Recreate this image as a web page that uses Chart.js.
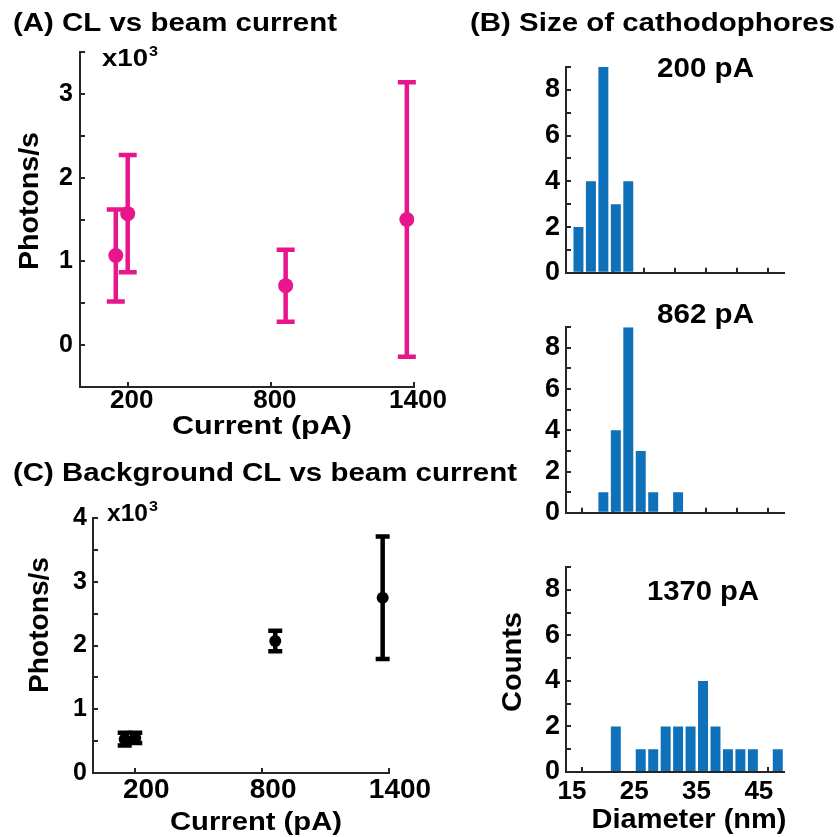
<!DOCTYPE html>
<html>
<head>
<meta charset="utf-8">
<script src="https://cdn.jsdelivr.net/npm/chart.js@4.4.1/dist/chart.umd.min.js"></script>
<style>
  html, body { margin: 0; padding: 0; background: #fff; }
  #page { position: relative; width: 840px; height: 837px; overflow: hidden; }
  canvas { position: absolute; }
</style>
</head>
<body>
<div id="page">
  <canvas id="chartA" width="470" height="445" style="left:0;top:0"></canvas>
  <canvas id="chartC" width="530" height="392" style="left:0;top:445px"></canvas>
  <canvas id="hist200" width="380" height="300" style="left:460px;top:0"></canvas>
  <canvas id="hist862" width="380" height="240" style="left:460px;top:300px"></canvas>
  <canvas id="hist1370" width="380" height="297" style="left:460px;top:540px"></canvas>
</div>
<script>
// ------------------------------------------------------------
// data
// ------------------------------------------------------------
const currents = [150, 200, 862, 1370];          // beam current (pA)
const currentTicks = [200, 800, 1400];

// (A) CL of cathodophores, x10^3 photons/s
const clMean = [1.07, 1.57, 0.71, 1.50];
const clErr = [0.55, 0.70, 0.43, 1.64];

// (C) background CL, x10^3 photons/s
const bgMean = [0.53, 0.55, 2.07, 2.75];
const bgErr = [0.10, 0.08, 0.16, 0.96];

// (B) size histograms, 2 nm bins (bin centres)
const diameterBins = [17, 19, 21, 23, 25, 27, 29, 31, 33, 35, 37, 39, 41, 43, 45, 47, 49];
const counts200 = [2, 4, 9, 3, 4, 0, 0, 0, 0, 0, 0, 0, 0, 0, 0, 0, 0];
const counts862 = [0, 0, 1, 4, 9, 3, 1, 0, 1, 0, 0, 0, 0, 0, 0, 0, 0];
const counts1370 = [0, 0, 0, 2, 0, 1, 1, 2, 2, 2, 4, 2, 1, 1, 1, 0, 1];

// ------------------------------------------------------------
// styles
// ------------------------------------------------------------
const FONT = "'Liberation Sans', Arial, Helvetica, sans-serif";
const AXIS = '#262626';
const MAGENTA = '#e8168c';
const BAR = '#0e71b9';

// vertical error bars with caps, drawn under the markers
const errorBars = {
  id: 'errorBars',
  beforeDatasetsDraw(chart) {
    const { ctx, scales: { x, y } } = chart;
    chart.data.datasets.forEach(ds => {
      if (!ds.errors) return;
      ctx.save();
      ctx.strokeStyle = ds.errorColor;
      ctx.lineWidth = ds.errorWidth;
      ctx.lineCap = 'butt';
      ds.data.forEach((p, i) => {
        const px = x.getPixelForValue(p.x);
        const top = y.getPixelForValue(p.y + ds.errors[i]);
        const bot = y.getPixelForValue(p.y - ds.errors[i]);
        const half = ds.capWidth / 2;
        ctx.beginPath();
        ctx.moveTo(px, top); ctx.lineTo(px, bot);
        ctx.moveTo(px - half, top); ctx.lineTo(px + half, top);
        ctx.moveTo(px - half, bot); ctx.lineTo(px + half, bot);
        ctx.stroke();
      });
      ctx.restore();
    });
  }
};

// free text (panel titles, axis titles, exponents), stretched to width w
function textPlugin(items) {
  return {
    id: 'panelText',
    afterDraw(chart) {
      const ctx = chart.ctx;
      items.forEach(t => {
        ctx.save();
        ctx.font = `bold ${t.size}px ${FONT}`;
        ctx.fillStyle = '#000';
        ctx.textAlign = t.rot ? 'center' : (t.align || 'left');
        ctx.textBaseline = t.rot ? 'middle' : 'alphabetic';
        const sx = t.w ? t.w / ctx.measureText(t.text).width : 1;
        ctx.translate(t.x, t.y);
        if (t.rot) ctx.rotate(-Math.PI / 2);
        ctx.scale(sx, 1);
        ctx.fillText(t.text, 0, 0);
        ctx.restore();
      });
    }
  };
}

function axisStyle(extra) {
  return Object.assign({
    grid: { drawOnChartArea: false, drawTicks: true, tickLength: -5, color: AXIS, lineWidth: 2 },
    border: { display: true, color: AXIS, width: 2 },
  }, extra);
}

function tickFont(size) {
  return { family: FONT, size, weight: 'bold' };
}

// ------------------------------------------------------------
// (A) / (C) photon rate vs beam current
// ------------------------------------------------------------
function currentChart(id, opt) {
  new Chart(document.getElementById(id), {
    type: 'scatter',
    data: {
      datasets: [{
        data: currents.map((c, i) => ({ x: c, y: opt.mean[i] })),
        errors: opt.err,
        errorColor: opt.color,
        errorWidth: 4.5,
        capWidth: opt.cap,
        pointRadius: opt.radius,
        pointHoverRadius: opt.radius,
        backgroundColor: opt.color,
        borderWidth: 0,
      }],
    },
    options: {
      responsive: false,
      animation: false,
      layout: { padding: { top: opt.top, right: opt.right, left: 0, bottom: 0 } },
      plugins: { legend: { display: false }, tooltip: { enabled: false } },
      scales: {
        x: axisStyle({
          type: 'linear', min: 0, max: 1400,
          afterBuildTicks: s => { s.ticks = currentTicks.map(v => ({ value: v })); },
          afterFit: s => { s.height = opt.xHeight; },
          ticks: {
            font: tickFont(opt.xFont), color: '#000', padding: opt.xPad,
            maxRotation: 0, autoSkip: false, labelOffset: opt.xOffset,
            callback: v => String(v),
          },
        }),
        y: axisStyle({
          type: 'linear', min: opt.yMin, max: opt.yMax,
          afterFit: s => { s.width = opt.yWidth; },
          ticks: {
            stepSize: 0.5, font: tickFont(25), color: '#000', padding: opt.yPad,
            autoSkip: false,
            callback: v => Number.isInteger(v) ? v : '',
          },
        }),
      },
    },
    plugins: [errorBars, textPlugin(opt.texts)],
  });
}

currentChart('chartA', {
  mean: clMean, err: clErr, color: MAGENTA, cap: 18, radius: 7.5,
  yMin: -0.5, yMax: 3.5, top: 52, right: 56, xHeight: 58, yWidth: 80,
  xFont: 26, xPad: 3, xOffset: 4, yPad: 12,
  texts: [
    { text: '(A) CL vs beam current', x: 13, y: 31, size: 26, w: 324 },
    { text: 'x10', x: 102, y: 66, size: 24, w: 46 },
    { text: '3', x: 149, y: 56, size: 14, w: 9 },
    { text: 'Photons/s', x: 31, y: 201, size: 27, w: 138, rot: true },
    { text: 'Current (pA)', x: 262, y: 434, size: 26, w: 180, align: 'center' },
  ],
});

currentChart('chartC', {
  mean: bgMean, err: bgErr, color: '#000', cap: 14, radius: 6,
  yMin: 0, yMax: 4, top: 73, right: 141, xHeight: 64, yWidth: 93,
  xFont: 28, xPad: 5, xOffset: 11, yPad: 11,
  texts: [
    { text: '(C) Background CL vs beam current', x: 13, y: 36, size: 26, w: 504 },
    { text: 'x10', x: 107, y: 76, size: 24, w: 41 },
    { text: '3', x: 149, y: 66, size: 14, w: 9 },
    { text: 'Photons/s', x: 41, y: 180, size: 27, w: 136, rot: true },
    { text: 'Current (pA)', x: 256, y: 385, size: 26, w: 172, align: 'center' },
  ],
});

// ------------------------------------------------------------
// (B) diameter histograms
// ------------------------------------------------------------
function histogram(id, counts, opt) {
  new Chart(document.getElementById(id), {
    type: 'bar',
    data: {
      datasets: [{
        data: diameterBins.map((d, i) => ({ x: d, y: counts[i] })),
        backgroundColor: BAR,
        borderWidth: 0,
        categoryPercentage: 1,
        barPercentage: 0.8,
      }],
    },
    options: {
      responsive: false,
      animation: false,
      layout: { padding: { top: opt.top, right: 56, left: 0, bottom: 0 } },
      plugins: { legend: { display: false }, tooltip: { enabled: false } },
      scales: {
        x: axisStyle({
          type: 'linear', min: 15, max: 50, offset: false,
          afterFit: s => { s.height = opt.xHeight; },
          ticks: {
            stepSize: 5, font: tickFont(26), color: '#000', padding: 9,
            maxRotation: 0, autoSkip: false, labelOffset: 6,
            callback: v => (opt.labelled && v % 10 === 5) ? v : '',
          },
        }),
        y: axisStyle({
          type: 'linear', min: 0, max: 9,
          afterFit: s => { s.width = 106; },
          ticks: {
            stepSize: 1, font: tickFont(27), color: '#000', padding: 11,
            autoSkip: false,
            callback: v => (v % 2 === 0 && v < 9) ? v : '',
          },
        }),
      },
    },
    plugins: [textPlugin(opt.texts)],
  });
}

histogram('hist200', counts200, {
  top: 67, xHeight: 13, labelled: false,
  texts: [
    { text: '(B) Size of cathodophores', x: 10, y: 31, size: 26, w: 365 },
    { text: '200 pA', x: 197, y: 77, size: 27, w: 97 },
  ],
});

histogram('hist862', counts862, {
  top: 9, xHeight: 12.5, labelled: false,
  texts: [
    { text: '862 pA', x: 197, y: 23, size: 27, w: 97 },
  ],
});

histogram('hist1370', counts1370, {
  top: 13, xHeight: 65, labelled: true,
  texts: [
    { text: '1370 pA', x: 187, y: 60, size: 27, w: 112 },
    { text: 'Counts', x: 54, y: 122, size: 27, w: 100, rot: true },
    { text: 'Diameter (nm)', x: 229, y: 288, size: 27, w: 195, align: 'center' },
  ],
});
</script>
</body>
</html>
